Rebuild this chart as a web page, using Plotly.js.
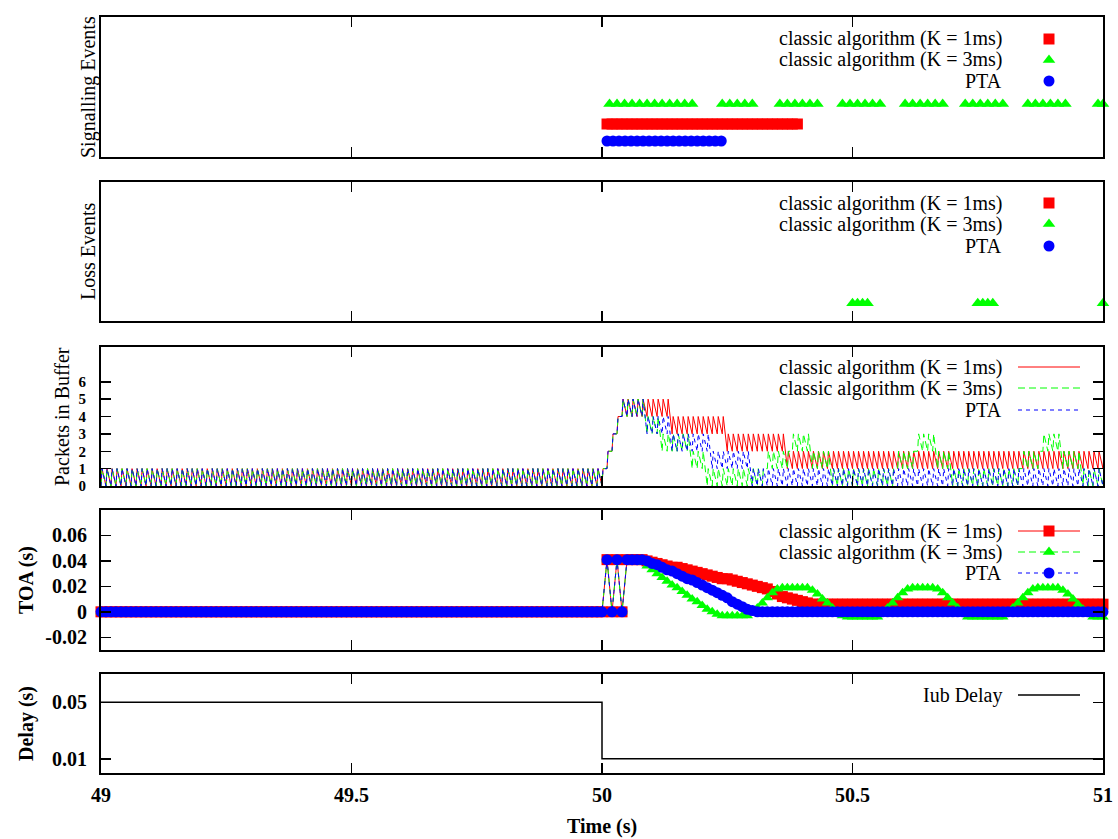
<!DOCTYPE html>
<html><head><meta charset="utf-8">
<script src="https://cdn.plot.ly/plotly-3.0.1.min.js"></script>
<style>html,body{margin:0;padding:0;background:#fff}#chart{width:1118px;height:839px}</style>
</head><body><div id="chart"></div><script>
// ---------------- DATA ----------------
const seriesNames = ['classic algorithm (K = 1ms)', 'classic algorithm (K = 3ms)', 'PTA'];
const delayName = 'Iub Delay';

// sample / packet times (s), 10 ms apart
const sampleTimes = [
49.00,49.01,49.02,49.03,49.04,49.05,49.06,49.07,49.08,49.09,
49.10,49.11,49.12,49.13,49.14,49.15,49.16,49.17,49.18,49.19,
49.20,49.21,49.22,49.23,49.24,49.25,49.26,49.27,49.28,49.29,
49.30,49.31,49.32,49.33,49.34,49.35,49.36,49.37,49.38,49.39,
49.40,49.41,49.42,49.43,49.44,49.45,49.46,49.47,49.48,49.49,
49.50,49.51,49.52,49.53,49.54,49.55,49.56,49.57,49.58,49.59,
49.60,49.61,49.62,49.63,49.64,49.65,49.66,49.67,49.68,49.69,
49.70,49.71,49.72,49.73,49.74,49.75,49.76,49.77,49.78,49.79,
49.80,49.81,49.82,49.83,49.84,49.85,49.86,49.87,49.88,49.89,
49.90,49.91,49.92,49.93,49.94,49.95,49.96,49.97,49.98,49.99,
50.00,50.01,50.02,50.03,50.04,50.05,50.06,50.07,50.08,50.09,
50.10,50.11,50.12,50.13,50.14,50.15,50.16,50.17,50.18,50.19,
50.20,50.21,50.22,50.23,50.24,50.25,50.26,50.27,50.28,50.29,
50.30,50.31,50.32,50.33,50.34,50.35,50.36,50.37,50.38,50.39,
50.40,50.41,50.42,50.43,50.44,50.45,50.46,50.47,50.48,50.49,
50.50,50.51,50.52,50.53,50.54,50.55,50.56,50.57,50.58,50.59,
50.60,50.61,50.62,50.63,50.64,50.65,50.66,50.67,50.68,50.69,
50.70,50.71,50.72,50.73,50.74,50.75,50.76,50.77,50.78,50.79,
50.80,50.81,50.82,50.83,50.84,50.85,50.86,50.87,50.88,50.89,
50.90,50.91,50.92,50.93,50.94,50.95,50.96,50.97,50.98,50.99,
51.00];

// Signalling events (s)
const sigK1Times = [
50.01,50.02,50.03,50.04,50.05,50.06,50.07,50.08,50.09,50.10,
50.11,50.12,50.13,50.14,50.15,50.16,50.17,50.18,50.19,50.20,
50.21,50.22,50.23,50.24,50.25,50.26,50.27,50.28,50.29,50.30,
50.31,50.32,50.33,50.34,50.35,50.36,50.37,50.38,50.39];
const sigK3Times = [
50.015,50.03,50.045,50.06,50.075,50.09,50.105,50.12,50.135,50.15,50.165,50.18,
50.24,50.255,50.27,50.285,50.30,
50.355,50.37,50.385,50.40,50.415,50.43,
50.48,50.495,50.51,50.525,50.54,50.555,
50.605,50.62,50.635,50.65,50.665,50.68,
50.725,50.74,50.755,50.77,50.785,50.80,
50.85,50.865,50.88,50.895,50.91,50.925,
50.99,51.00];
const sigPTATimes = [
50.01,50.022,50.034,50.046,50.058,50.07,50.082,50.094,50.106,50.118,
50.13,50.142,50.154,50.166,50.178,50.19,50.202,50.214,50.226,50.238];
const sigLevelK1 = 1.65, sigLevelK3 = 2.65, sigLevelPTA = 0.8;

// Loss events (s) - only K = 3ms
const lossK3Times = [50.50,50.51,50.52,50.53, 50.75,50.76,50.77,50.78, 51.00];
const lossLevelK3 = 0.9;

// Packets in buffer: low / high level of each packet tooth, before 50 s (all series)
const steadyLows = [
0,0,0,0,0,0,0,0,0,0, 0,0,0,0,0,0,0,0,0,0, 0,0,0,0,0,0,0,0,0,0, 0,0,0,0,0,0,0,0,0,0,
0,0,0,0,0,0,0,0,0,0, 0,0,0,0,0,0,0,0,0,0, 0,0,0,0,0,0,0,0,0,0, 0,0,0,0,0,0,0,0,0,0,
0,0,0,0,0,0,0,0,0,0, 0,0,0,0,0,0,0,0,0,0];
const steadyHighs = [
1,1,1,1,1,1,1,1,1,1, 1,1,1,1,1,1,1,1,1,1, 1,1,1,1,1,1,1,1,1,1, 1,1,1,1,1,1,1,1,1,1,
1,1,1,1,1,1,1,1,1,1, 1,1,1,1,1,1,1,1,1,1, 1,1,1,1,1,1,1,1,1,1, 1,1,1,1,1,1,1,1,1,1,
1,1,1,1,1,1,1,1,1,1, 1,1,1,1,1,1,1,1,1,1];
// after 50 s (50.00 .. 51.00)
const bufK1Lows = [
0,1,2,3,4,4,4,4,4,4, 4,4,4,4,3,3,3,3,3,3, 3,3,3,3,3,2,2,2,2,2, 2,2,2,2,2,2,2,1,1,1,
1,1,1,1,1,1,1,1,1,1, 1,1,1,1,1,1,1,1,1,1, 1,1,1,1,1,1,1,1,1,1, 1,1,1,1,1,1,1,1,1,1,
1,1,1,1,1,1,1,1,1,1, 1,1,1,1,1,1,1,1,1,1, 1];
const bufK1Highs = [
1,2,3,4,5,5,5,5,5,5, 5,5,5,5,4,4,4,4,4,4, 4,4,4,4,4,3,3,3,3,3, 3,3,3,3,3,3,3,2,2,2,
2,2,2,2,2,2,2,2,2,2, 2,2,2,2,2,2,2,2,2,2, 2,2,2,2,2,2,2,2,2,2, 2,2,2,2,2,2,2,2,2,2,
2,2,2,2,2,2,2,2,2,2, 2,2,2,2,2,2,2,2,2,2, 2];
const bufK3Lows = [
0,1,2,3,4,4,4,4,4,3, 3,3,2,2,2,2,2,2,1,1, 1,0,0,0,0,0,0,0,0,0, 0,0,0,1,1,1,1,1,2,2,
2,2,1,1,1,1,0,0,0,0, 0,0,0,0,0,0,0,0,0,1, 1,1,1,2,2,2,2,1,1,1, 0,0,0,0,0,0,0,0,0,0,
0,0,0,0,1,1,1,1,2,2, 2,2,1,1,1,1,0,0,0,0, 0];
const bufK3Highs = [
1,2,3,4,5,5,5,5,5,4, 4,4,3,3,3,3,3,3,2,2, 2,1,1,1,1,1,1,1,1,1, 1,1,1,2,2,2,2,2,3,3,
3,3,2,2,2,2,1,1,1,1, 1,1,1,1,1,1,1,1,1,2, 2,2,2,3,3,3,3,2,2,2, 1,1,1,1,1,1,1,1,1,1,
1,1,1,1,2,2,2,2,3,3, 3,3,2,2,2,2,1,1,1,1, 1];
const bufPTALows = [
0,1,2,3,4,4,4,4,4,3, 3,3,3,3,2,2,2,2,2,2, 2,2,1,1,1,1,1,1,1,1, 0,0,0,0,0,0,0,0,0,0,
0,0,0,0,0,0,0,0,0,0, 0,0,0,0,0,0,0,0,0,0, 0,0,0,0,0,0,0,0,0,0, 0,0,0,0,0,0,0,0,0,0,
0,0,0,0,0,0,0,0,0,0, 0,0,0,0,0,0,0,0,0,0, 0];
const bufPTAHighs = [
1,2,3,4,5,5,5,5,5,4, 4,4,4,4,3,3,3,3,3,3, 3,3,2,2,2,2,2,2,2,2, 1,1,1,1,1,1,1,1,1,1,
1,1,1,1,1,1,1,1,1,1, 1,1,1,1,1,1,1,1,1,1, 1,1,1,1,1,1,1,1,1,1, 1,1,1,1,1,1,1,1,1,1,
1,1,1,1,1,1,1,1,1,1, 1,1,1,1,1,1,1,1,1,1, 1];

// TOA (s): before 50 s (all series)
const toaSteady = [
0,0,0,0,0,0,0,0,0,0, 0,0,0,0,0,0,0,0,0,0, 0,0,0,0,0,0,0,0,0,0, 0,0,0,0,0,0,0,0,0,0,
0,0,0,0,0,0,0,0,0,0, 0,0,0,0,0,0,0,0,0,0, 0,0,0,0,0,0,0,0,0,0, 0,0,0,0,0,0,0,0,0,0,
0,0,0,0,0,0,0,0,0,0, 0,0,0,0,0,0,0,0,0,0];
// after 50 s (50.00 .. 51.00)
const toaK1 = [
0,0.041,0,0.041,0,0.041,0.041,0.041,0.041,0.040,
0.039,0.038,0.037,0.036,0.035,0.035,0.034,0.033,0.032,0.031,
0.030,0.029,0.028,0.027,0.026,0.026,0.025,0.024,0.023,0.022,
0.021,0.020,0.019,0.018,0.016,0.014,0.012,0.011,0.010,0.009,
0.008,0.007,0.006,0.006,0.006,0.006,0.006,0.006,0.006,0.006,
0.006,0.006,0.006,0.006,0.006,0.006,0.006,0.006,0.006,0.006,
0.006,0.006,0.006,0.006,0.006,0.006,0.006,0.006,0.006,0.006,
0.006,0.006,0.006,0.006,0.006,0.006,0.006,0.006,0.006,0.006,
0.006,0.006,0.006,0.006,0.006,0.006,0.006,0.006,0.006,0.006,
0.006,0.006,0.006,0.006,0.006,0.006,0.006,0.006,0.006,0.006,
0.006];
const toaK3 = [
0,0.041,0,0.041,0,0.041,0.041,0.041,0.039,0.036,
0.033,0.030,0.027,0.024,0.021,0.019,0.016,0.013,0.010,0.008,
0.005,0.002,0.000,-0.002,-0.003,-0.003,-0.003,-0.003,-0.003,-0.003,
0.000,0.003,0.007,0.011,0.015,0.018,0.019,0.019,0.019,0.019,
0.019,0.019,0.017,0.014,0.010,0.007,0.003,0.000,-0.003,-0.004,
-0.004,-0.004,-0.004,-0.004,-0.004,-0.004,-0.001,0.003,0.007,0.011,
0.015,0.018,0.019,0.019,0.019,0.019,0.019,0.018,0.015,0.011,
0.007,0.003,-0.001,-0.004,-0.004,-0.004,-0.004,-0.004,-0.004,-0.004,
-0.004,-0.001,0.003,0.007,0.011,0.015,0.018,0.019,0.019,0.019,
0.019,0.019,0.017,0.014,0.010,0.006,0.002,-0.002,-0.004,-0.004,
-0.004];
const toaPTA = [
0,0.041,0,0.041,0,0.041,0.041,0.041,0.041,0.040,
0.038,0.037,0.035,0.033,0.032,0.030,0.028,0.026,0.025,0.023,
0.021,0.019,0.017,0.015,0.013,0.011,0.008,0.006,0.004,0.002,
0.001,0,0,0,0,0,0,0,0,0, 0,0,0,0,0,0,0,0,0,0, 0,0,0,0,0,0,0,0,0,0,
0,0,0,0,0,0,0,0,0,0, 0,0,0,0,0,0,0,0,0,0, 0,0,0,0,0,0,0,0,0,0,
0,0,0,0,0,0,0,0,0,0, 0];

// Iub delay (s)
const delayTimes = [49, 50, 50, 51];
const delayValues = [0.05, 0.05, 0.01, 0.01];

// tick labels
const bufTicks = [0,1,2,3,4,5,6];
const toaTickVals = [-0.02, 0, 0.02, 0.04, 0.06];
const toaTickText = ['-0.02', '0', '0.02', '0.04', '0.06'];
const delayTickVals = [0.01, 0.05];
const delayTickText = ['0.01', '0.05'];

// ---------------- STYLE / BUILD ----------------
const W = 1118, H = 839;
const px = v => v / W, py = v => 1 - v / H;
const FONT = 'Liberation Serif';
const RED = '#ff0000', GREEN = '#00ff00', BLUE = '#0000ff';
const RISE = 0.002;
const BOLD = {family: FONT, size: 20, color: '#000', weight: 'bold'};
const REG = {family: FONT, size: 20, color: '#000', weight: 'normal'};
const LEG = {family: FONT, size: 20, color: '#000', weight: 'normal'};

function zigzag(times, lows, highs) {
  const x = [], y = [];
  for (let i = 0; i < times.length; i++) {
    x.push(times[i]); y.push(lows[i]);
    x.push(times[i] + RISE); y.push(highs[i]);
  }
  return {x, y};
}
const constY = (arr, v) => arr.map(() => v);

const bufRed = zigzag(sampleTimes, steadyLows.concat(bufK1Lows), steadyHighs.concat(bufK1Highs));
const bufGreen = zigzag(sampleTimes, steadyLows.concat(bufK3Lows), steadyHighs.concat(bufK3Highs));
const bufBlue = zigzag(sampleTimes, steadyLows.concat(bufPTALows), steadyHighs.concat(bufPTAHighs));

const traces = [
  // panel 1: signalling
  {x: sigK1Times, y: constY(sigK1Times, sigLevelK1), xaxis: 'x', yaxis: 'y', mode: 'markers', marker: {symbol: 'square', size: 11, color: RED}, cliponaxis: false},
  {x: sigK3Times, y: constY(sigK3Times, sigLevelK3), xaxis: 'x', yaxis: 'y', mode: 'markers', marker: {symbol: 'triangle-up', size: 11, color: GREEN}, cliponaxis: false},
  {x: sigPTATimes, y: constY(sigPTATimes, sigLevelPTA), xaxis: 'x', yaxis: 'y', mode: 'markers', marker: {symbol: 'circle', size: 11, color: BLUE}, cliponaxis: false},
  // panel 2: loss
  {x: lossK3Times, y: constY(lossK3Times, lossLevelK3), xaxis: 'x2', yaxis: 'y2', mode: 'markers', marker: {symbol: 'triangle-up', size: 11, color: GREEN}, cliponaxis: false},
  // panel 3: packets
  {x: bufRed.x, y: bufRed.y, xaxis: 'x3', yaxis: 'y3', mode: 'lines', line: {color: RED, width: 1}},
  {x: bufGreen.x, y: bufGreen.y, xaxis: 'x3', yaxis: 'y3', mode: 'lines', line: {color: GREEN, width: 1, dash: '7px,4px'}},
  {x: bufBlue.x, y: bufBlue.y, xaxis: 'x3', yaxis: 'y3', mode: 'lines', line: {color: BLUE, width: 1, dash: '4px,4px'}},
  // panel 4: TOA
  {x: sampleTimes, y: toaSteady.concat(toaK1), xaxis: 'x4', yaxis: 'y4', mode: 'lines+markers', line: {color: RED, width: 1}, marker: {symbol: 'square', size: 11, color: RED}, cliponaxis: false},
  {x: sampleTimes, y: toaSteady.concat(toaK3), xaxis: 'x4', yaxis: 'y4', mode: 'lines+markers', line: {color: GREEN, width: 1, dash: '7px,4px'}, marker: {symbol: 'triangle-up', size: 10, color: GREEN}, cliponaxis: false},
  {x: sampleTimes, y: toaSteady.concat(toaPTA), xaxis: 'x4', yaxis: 'y4', mode: 'lines+markers', line: {color: BLUE, width: 1, dash: '4px,4px'}, marker: {symbol: 'circle', size: 11, color: BLUE}, cliponaxis: false},
  // panel 5: delay
  {x: delayTimes, y: delayValues, xaxis: 'x5', yaxis: 'y5', mode: 'lines', line: {color: '#000', width: 1.5}}
];

const panels = [[17, 157], [182, 321], [347, 486], [510, 650], [674, 773]];
const xBase = {
  range: [49, 51], domain: [px(101), px(1103)], showline: true, linecolor: '#000', linewidth: 2,
  mirror: 'ticks', ticks: 'inside', ticklen: 10, tickwidth: 1.5, tickcolor: '#000',
  tick0: 49, dtick: 0.5, showgrid: false, zeroline: false, showticklabels: false, fixedrange: true
};
const yBase = {
  showline: true, linecolor: '#000', linewidth: 2, mirror: true, showgrid: false, zeroline: false,
  ticks: '', showticklabels: false, fixedrange: true, tickfont: BOLD, ticklabelstandoff: 8
};
const layout = {
  width: W, height: H, margin: {l: 0, r: 0, t: 0, b: 0},
  paper_bgcolor: '#fff', plot_bgcolor: '#fff', showlegend: false,
  font: {family: FONT, size: 20, color: '#000'}
};
for (let i = 0; i < 5; i++) {
  const k = i === 0 ? '' : String(i + 1);
  layout['xaxis' + k] = Object.assign({}, xBase, {anchor: 'y' + k});
  layout['yaxis' + k] = Object.assign({}, yBase, {anchor: 'x' + k, domain: [py(panels[i][1]), py(panels[i][0])]});
}
layout.xaxis5.showticklabels = true;
layout.xaxis5.tickfont = BOLD;
layout.xaxis5.ticklabelstandoff = 3;
layout.yaxis.range = [0, 7];
layout.yaxis2.range = [0, 7];
const yTicked = {ticks: 'inside', mirror: 'ticks', ticklen: 10, tickwidth: 1.5, tickcolor: '#000', showticklabels: true};
Object.assign(layout.yaxis3, yTicked, {range: [0, 8], tickvals: bufTicks,
  tickfont: {family: FONT, size: 15, color: '#000', weight: 'bold'}, ticklabelstandoff: 10});
Object.assign(layout.yaxis4, yTicked, {range: [-0.03, 0.08], tickvals: toaTickVals, ticktext: toaTickText});
Object.assign(layout.yaxis5, yTicked, {range: [0, 0.07], tickvals: delayTickVals, ticktext: delayTickText});

// axis titles as annotations
const ann = [];
function vtitle(text, x, y, font) {
  ann.push({text, x: px(x), y: py(y), xref: 'paper', yref: 'paper', xanchor: 'center', yanchor: 'middle',
    textangle: -90, showarrow: false, font});
}
vtitle('Signalling Events', 88, 87, REG);
vtitle('Loss Events', 88, 252, REG);
vtitle('Packets in Buffer', 62, 417, REG);
vtitle('TOA (s)', 26, 580, BOLD);
vtitle('Delay (s)', 26, 724, BOLD);
ann.push({text: 'Time (s)', x: px(602), y: py(826), xref: 'paper', yref: 'paper', xanchor: 'center', yanchor: 'middle',
  showarrow: false, font: BOLD});

// legends
const shapes = [];
const colors = [RED, GREEN, BLUE];
const symbols = ['square', 'triangle', 'circle'];
const dashes = ['solid', '7px,4px', '4px,4px'];
function legText(text, y) {
  ann.push({text, x: px(1004), y: py(y), xref: 'paper', yref: 'paper', xanchor: 'right', yanchor: 'middle',
    showarrow: false, font: LEG});
}
function legLine(y, color, dash, width) {
  shapes.push({type: 'line', xref: 'paper', yref: 'paper', x0: px(1018), x1: px(1080), y0: py(y), y1: py(y),
    line: {color, width: width || 1, dash}});
}
function legMarker(y, color, sym, s) {
  const base = {xref: 'paper', yref: 'paper', xsizemode: 'pixel', ysizemode: 'pixel', xanchor: px(1049), yanchor: py(y),
    fillcolor: color, line: {width: 0}};
  const r = s / 2;
  if (sym === 'square') shapes.push(Object.assign({type: 'rect', x0: -r, x1: r, y0: -r, y1: r}, base));
  else if (sym === 'circle') shapes.push(Object.assign({type: 'circle', x0: -r, x1: r, y0: -r, y1: r}, base));
  else {
    const rt = (r * 2 / Math.sqrt(3)).toFixed(2), r2 = (r / 2).toFixed(2);
    shapes.push(Object.assign({type: 'path', path: `M-${rt},-${r2} L${rt},-${r2} L0,${r} Z`}, base));
  }
}
const legRows = [[39, 60, 81], [203, 224, 246], [367, 388, 410], [531, 552, 573]];
for (let p = 0; p < 4; p++) {
  for (let s = 0; s < 3; s++) {
    const y = legRows[p][s];
    legText(seriesNames[s], y);
    if (p === 2 || p === 3) legLine(y, colors[s], dashes[s]);
    if (p !== 2) legMarker(y, colors[s], symbols[s], 11);
  }
}
legText(delayName, 695);
legLine(695, '#000', 'solid', 1.5);

layout.annotations = ann;
layout.shapes = shapes;

Plotly.newPlot('chart', traces, layout, {staticPlot: true, displayModeBar: false});
</script></body></html>
